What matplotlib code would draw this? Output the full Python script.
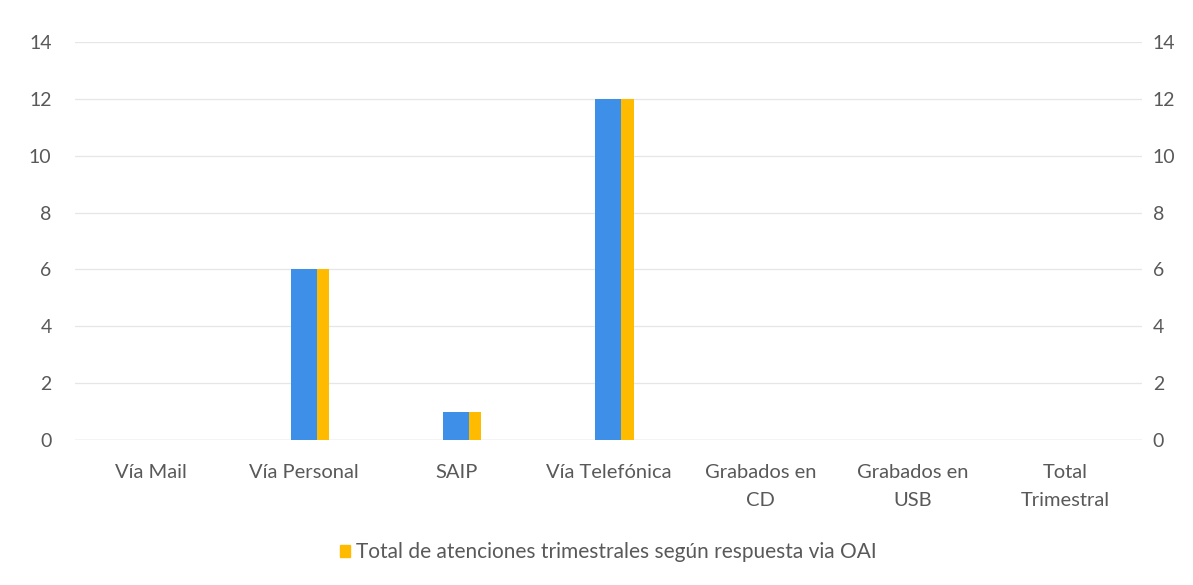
import matplotlib

matplotlib.use("Agg")
import matplotlib.pyplot as plt  # noqa: E402
import numpy as np  # noqa: E402
from matplotlib.patches import Patch  # noqa: E402

plt.rcParams["font.family"] = ["Lato", "DejaVu Sans"]

categories = ["Vía Mail", "Vía Personal", "SAIP", "Vía Telefónica",
              "Grabados en\nCD", "Grabados en\nUSB", "Total\nTrimestral"]
blue_vals = [0, 6, 1, 12, 0, 0, 0]
yellow_vals = [0, 6, 1, 12, 0, 0, 0]
legend_label = "Total de atenciones trimestrales según respuesta via OAI"

BLUE = "#3d8fe8"
YELLOW = "#ffbb00"
TEXT = "#595959"

fig = plt.figure(figsize=(11.93, 5.85), dpi=100)
ax = fig.add_axes([0.063, 0.248, 0.894, 0.68])
ax2 = ax.twinx()

x = np.arange(len(categories))
ax.bar(x, blue_vals, width=0.17, color=BLUE, zorder=3)
ax2.bar(x + 0.085, yellow_vals, width=0.08, color=YELLOW, align="edge", zorder=3)

for a in (ax, ax2):
    a.set_ylim(0, 14)
    a.set_yticks(np.arange(0, 15, 2))
    a.set_xlim(-0.5, len(categories) - 0.5)
    for s in a.spines.values():
        s.set_visible(False)
    a.tick_params(length=0, labelsize=14, colors=TEXT)

ax.grid(axis="y", color="#e6e6e6", linewidth=0.9, zorder=0)
ax.set_axisbelow(True)
ax.tick_params(axis="y", pad=17)
ax2.tick_params(axis="y", pad=8)
ax.set_xticks(x)
ax.set_xticklabels(categories, fontsize=14.5, color=TEXT, linespacing=1.85)
ax.tick_params(axis="x", pad=17)
ax.axhline(0, color="#d9d9d9", linewidth=1, zorder=2)

fig.legend(handles=[Patch(color=YELLOW)], labels=[legend_label],
           loc="center", bbox_to_anchor=(0.51, 0.056), frameon=False,
           fontsize=15, labelcolor=TEXT, handlelength=0.5, handleheight=0.5,
           handletextpad=0.3)

fig.savefig("out.png", facecolor="white")
